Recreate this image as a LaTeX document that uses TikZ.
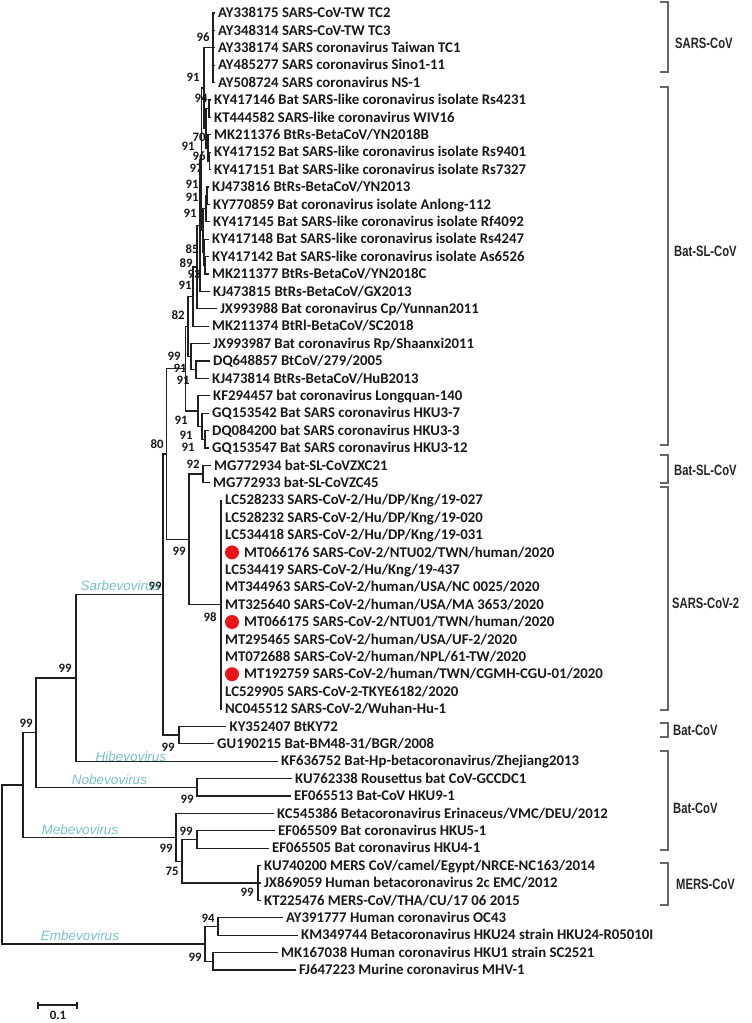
\documentclass[tikz,border=0pt]{standalone}
\usepackage{fontspec}
\setmainfont{Carlito}
\newfontfamily\arialfont{Liberation Sans}
\usepackage{graphicx}
\usetikzlibrary{calc}
\definecolor{genuscol}{RGB}{120,192,202}
\definecolor{dotred}{RGB}{232,20,24}
\newcommand{\cladetxt}[1]{\scalebox{0.75}[1]{#1}}
\begin{document}
\begin{tikzpicture}[x=1pt,y=-1pt,
 br/.style={line width=1.3pt, draw=black!88},
 leaf/.style={anchor=west, inner xsep=3.5pt, inner ysep=0pt, text height=9.5pt, text depth=0pt, font=\fontsize{14.8}{14.8}\selectfont\bfseries, text=black!90},
 dleaf/.style={leaf, inner xsep=22.5pt},
 bs/.style={inner sep=0pt, text height=8.1pt, text depth=0pt, font=\fontsize{12.8}{12.8}\selectfont\bfseries, text=black!90},
 genus/.style={inner sep=0pt, text height=9.5pt, text depth=0pt, font=\arialfont\itshape\fontsize{13.5}{13.5}\selectfont, text=genuscol},
 clade/.style={anchor=west, inner sep=0pt, text height=10.7pt, text depth=0pt, font=\arialfont\bfseries\fontsize{15}{15}\selectfont, text=black!85},
 brk/.style={line width=1.5pt, draw=black!60},
 rdot/.style={circle, fill=dotred, inner sep=0pt, minimum size=14pt}
]
\useasboundingbox (0,0) rectangle (752,1023);

% ---------- leaves ----------
\node[leaf] (l1) at (214.5,13) {AY338175 SARS-CoV-TW TC2};
\node[leaf] (l2) at (214.5,30.4) {AY348314 SARS-CoV-TW TC3};
\node[leaf] (l3) at (214.5,47.8) {AY338174 SARS coronavirus Taiwan TC1};
\node[leaf] (l4) at (214.5,65.2) {AY485277 SARS coronavirus Sino1-11};
\node[leaf] (l5) at (214.5,82.6) {AY508724 SARS coronavirus NS-1};
\node[leaf] (l6) at (210.5,100) {KY417146 Bat SARS-like coronavirus isolate Rs4231};
\node[leaf] (l7) at (210.5,117.4) {KT444582 SARS-like coronavirus WIV16};
\node[leaf] (l8) at (210.5,134.8) {MK211376 BtRs-BetaCoV/YN2018B};
\node[leaf] (l9) at (210.5,152.2) {KY417152 Bat SARS-like coronavirus isolate Rs9401};
\node[leaf] (l10) at (210.5,169.6) {KY417151 Bat SARS-like coronavirus isolate Rs7327};
\node[leaf] (l11) at (208.5,187) {KJ473816 BtRs-BetaCoV/YN2013};
\node[leaf] (l12) at (209.5,204.4) {KY770859 Bat coronavirus isolate Anlong-112};
\node[leaf] (l13) at (209.5,221.8) {KY417145 Bat SARS-like coronavirus isolate Rf4092};
\node[leaf] (l14) at (208.5,239.2) {KY417148 Bat SARS-like coronavirus isolate Rs4247};
\node[leaf] (l15) at (208.5,256.6) {KY417142 Bat SARS-like coronavirus isolate As6526};
\node[leaf] (l16) at (208.5,274) {MK211377 BtRs-BetaCoV/YN2018C};
\node[leaf] (l17) at (209.5,291.4) {KJ473815 BtRs-BetaCoV/GX2013};
\node[leaf] (l18) at (216.5,308.8) {JX993988 Bat coronavirus Cp/Yunnan2011};
\node[leaf] (l19) at (208.5,326.2) {MK211374 BtRl-BetaCoV/SC2018};
\node[leaf] (l20) at (209.5,343.6) {JX993987 Bat coronavirus Rp/Shaanxi2011};
\node[leaf] (l21) at (209.5,361) {DQ648857 BtCoV/279/2005};
\node[leaf] (l22) at (208.5,378.4) {KJ473814 BtRs-BetaCoV/HuB2013};
\node[leaf] (l23) at (209.5,395.8) {KF294457 bat coronavirus Longquan-140};
\node[leaf] (l24) at (208.5,413.2) {GQ153542 Bat SARS coronavirus HKU3-7};
\node[leaf] (l25) at (208.5,430.6) {DQ084200 bat SARS coronavirus HKU3-3};
\node[leaf] (l26) at (208.5,448) {GQ153547 Bat SARS coronavirus HKU3-12};
\node[leaf] (l27) at (210.5,465.4) {MG772934 bat-SL-CoVZXC21};
\node[leaf] (l28) at (209.5,482.8) {MG772933 bat-SL-CoVZC45};
\node[leaf] (l29) at (221.5,500.2) {LC528233 SARS-CoV-2/Hu/DP/Kng/19-027};
\node[leaf] (l30) at (221.5,517.6) {LC528232 SARS-CoV-2/Hu/DP/Kng/19-020};
\node[leaf] (l31) at (221.5,535) {LC534418 SARS-CoV-2/Hu/DP/Kng/19-031};
\node[dleaf] (l32) at (221.5,552.4) {MT066176 SARS-CoV-2/NTU02/TWN/human/2020};
\node[leaf] (l33) at (221.5,569.8) {LC534419 SARS-CoV-2/Hu/Kng/19-437};
\node[leaf] (l34) at (221.5,587.2) {MT344963 SARS-CoV-2/human/USA/NC 0025/2020};
\node[leaf] (l35) at (221.5,604.6) {MT325640 SARS-CoV-2/human/USA/MA 3653/2020};
\node[dleaf] (l36) at (221.5,622) {MT066175 SARS-CoV-2/NTU01/TWN/human/2020};
\node[leaf] (l37) at (221.5,639.4) {MT295465 SARS-CoV-2/human/USA/UF-2/2020};
\node[leaf] (l38) at (221.5,656.8) {MT072688 SARS-CoV-2/human/NPL/61-TW/2020};
\node[dleaf] (l39) at (221.5,674.2) {MT192759 SARS-CoV-2/human/TWN/CGMH-CGU-01/2020};
\node[leaf] (l40) at (221.5,691.6) {LC529905 SARS-CoV-2-TKYE6182/2020};
\node[leaf] (l41) at (221.5,709) {NC045512 SARS-CoV-2/Wuhan-Hu-1};
\node[leaf] (l42) at (226,726.4) {KY352407 BtKY72};
\node[leaf] (l43) at (213.5,743.8) {GU190215 Bat-BM48-31/BGR/2008};
\node[leaf] (l44) at (277.5,761.2) {KF636752 Bat-Hp-betacoronavirus/Zhejiang2013};
\node[leaf] (l45) at (291.5,778.6) {KU762338 Rousettus bat CoV-GCCDC1};
\node[leaf] (l46) at (290.5,796) {EF065513 Bat-CoV HKU9-1};
\node[leaf] (l47) at (273.5,813.4) {KC545386 Betacoronavirus Erinaceus/VMC/DEU/2012};
\node[leaf] (l48) at (274.5,830.8) {EF065509 Bat coronavirus HKU5-1};
\node[leaf] (l49) at (268.5,848.2) {EF065505 Bat coronavirus HKU4-1};
\node[leaf] (l50) at (260.5,865.6) {KU740200 MERS CoV/camel/Egypt/NRCE-NC163/2014};
\node[leaf] (l51) at (260.5,883) {JX869059 Human betacoronavirus 2c EMC/2012};
\node[leaf] (l52) at (260.5,900.4) {KT225476 MERS-CoV/THA/CU/17 06 2015};
\node[leaf] (l53) at (282.5,917.8) {AY391777 Human coronavirus OC43};
\node[leaf] (l54) at (297.5,935.2) {KM349744 Betacoronavirus HKU24 strain HKU24-R05010I};
\node[leaf] (l55) at (277.5,952.6) {MK167038 Human coronavirus HKU1 strain SC2521};
\node[leaf] (l56) at (295.5,970) {FJ647223 Murine coronavirus MHV-1};

% red dots
\node[rdot] (d1) at (232,552.4) {};
\node[rdot] (d2) at (232,622) {};
\node[rdot] (d3) at (232,674.2) {};

% ---------- internal nodes ----------
\coordinate (S) at (213,47.8);
\coordinate (a) at (209,108.7);
\coordinate (b) at (209.5,160.9);
\coordinate (c) at (208,147.85);
\coordinate (B1) at (206,128.28);
\coordinate (P1) at (204,88.04);
\coordinate (d) at (207,195.7);
\coordinate (e) at (206,208.75);
\coordinate (f) at (205,265.3);
\coordinate (g) at (204,252.25);
\coordinate (h) at (203,230.5);
\coordinate (P2) at (201.5,159.27);
\coordinate (P3) at (200,225.34);
\coordinate (P4) at (197,267.07);
\coordinate (G) at (193,296.64);
\coordinate (k) at (196,369.7);
\coordinate (J) at (191,356.65);
\coordinate (U) at (188,326.65);
\coordinate (m) at (205,439.3);
\coordinate (n) at (202,426.25);
\coordinate (V) at (198,411.03);
\coordinate (X) at (185.5,368.84);
\coordinate (ZC) at (203,474.1);
\coordinate (C2) at (221,604.6);
\coordinate (Y) at (189,539.35);
\coordinate (Z) at (166.5,454.1);
\coordinate (BC) at (179,735.1);
\coordinate (Sb) at (163,594.6);
\coordinate (H) at (76,677.9);
\coordinate (Nb) at (197,787.3);
\coordinate (Q) at (36,732.6);
\coordinate (w) at (197,839.5);
\coordinate (Ms) at (258,883);
\coordinate (Mx) at (182,861.25);
\coordinate (Mb) at (176,837.3);
\coordinate (R) at (23,784.95);
\coordinate (e1) at (218,926.5);
\coordinate (e2) at (213,961.3);
\coordinate (Emb) at (205,943.9);
\coordinate (Root) at (2,864.4);

% ---------- branches ----------
\draw[br]
 (S) |- (l1.west) (S) |- (l2.west) (S) |- (l3.west) (S) |- (l4.west) (S) |- (l5.west)
 (a) |- (l6.west) (a) |- (l7.west)
 (b) |- (l9.west) (b) |- (l10.west)
 (c) |- (l8.west) (c) |- (b)
 (B1) |- (a) (B1) |- (c)
 (P1) |- (S) (P1) |- (B1)
 (d) |- (l11.west) (d) |- (l12.west)
 (e) |- (d) (e) |- (l13.west)
 (f) |- (l15.west) (f) |- (l16.west)
 (g) |- (l14.west) (g) |- (f)
 (h) |- (e) (h) |- (g)
 (P2) |- (P1) (P2) |- (h)
 (P3) |- (P2) (P3) |- (l17.west)
 (P4) |- (P3) (P4) |- (l18.west)
 (G) |- (P4) (G) |- (l19.west)
 (k) |- (l21.west) (k) |- (l22.west)
 (J) |- (l20.west) (J) |- (k)
 (U) |- (G) (U) |- (J)
 (m) |- (l25.west) (m) |- (l26.west)
 (n) |- (l24.west) (n) |- (m)
 (V) |- (l23.west) (V) |- (n)
 (X) |- (U) (X) |- (V)
 (ZC) |- (l27.west) (ZC) |- (l28.west)
 (C2) |- (l29.west) (C2) |- (l30.west) (C2) |- (l31.west) (C2) |- (l32.west)
 (C2) |- (l33.west) (C2) |- (l34.west) (C2) |- (l35.west) (C2) |- (l36.west)
 (C2) |- (l37.west) (C2) |- (l38.west) (C2) |- (l39.west) (C2) |- (l40.west)
 (C2) |- (l41.west)
 (Y) |- (ZC) (Y) |- (C2)
 (Z) |- (X) (Z) |- (Y)
 (BC) |- (l42.west) (BC) |- (l43.west)
 (Sb) |- (Z) (Sb) |- (BC)
 (H) |- (Sb) (H) |- (l44.west)
 (Nb) |- (l45.west) (Nb) |- (l46.west)
 (Q) |- (H) (Q) |- (Nb)
 (w) |- (l48.west) (w) |- (l49.west)
 (Ms) |- (l50.west) (Ms) |- (l51.west) (Ms) |- (l52.west)
 (Mx) |- (w) (Mx) |- (Ms)
 (Mb) |- (l47.west) (Mb) |- (Mx)
 (R) |- (Q) (R) |- (Mb)
 (e1) |- (l53.west) (e1) |- (l54.west)
 (e2) |- (l55.west) (e2) |- (l56.west)
 (Emb) |- (e1) (Emb) |- (e2)
 (Root) |- (R) (Root) |- (Emb);

% ---------- bootstrap values ----------
\node[bs] (v1) at (203,37) {96};
\node[bs] (v2) at (193,77) {91};
\node[bs] (v3) at (201,98) {94};
\node[bs] (v4) at (199,137) {70};
\node[bs] (v5) at (188,146) {91};
\node[bs] (v6) at (199,156) {96};
\node[bs] (v7) at (196,168) {97};
\node[bs] (v8) at (192,184) {91};
\node[bs] (v9) at (192,197) {91};
\node[bs] (v10) at (190,213) {91};
\node[bs] (v11) at (192,249) {85};
\node[bs] (v12) at (186,263) {89};
\node[bs] (v13) at (194,274) {93};
\node[bs] (v14) at (185,285) {91};
\node[bs] (v15) at (178,315) {82};
\node[bs] (v16) at (174,356) {99};
\node[bs] (v17) at (180,368) {91};
\node[bs] (v18) at (183,380) {91};
\node[bs] (v19) at (181,420) {91};
\node[bs] (v20) at (186,435) {91};
\node[bs] (v21) at (188,447) {91};
\node[bs] (v22) at (157,444) {80};
\node[bs] (v23) at (193,464) {92};
\node[bs] (v24) at (179,551) {99};
\node[bs] (v25) at (210,617) {98};
\node[bs] (v26) at (155,586) {99};
\node[bs] (v27) at (65,668) {99};
\node[bs] (v28) at (26,723) {99};
\node[bs] (v29) at (168,747) {99};
\node[bs] (v30) at (187,799) {99};
\node[bs] (v31) at (186,831) {99};
\node[bs] (v32) at (166,848) {99};
\node[bs] (v33) at (172,871) {75};
\node[bs] (v34) at (247,892) {99};
\node[bs] (v35) at (208,918) {94};
\node[bs] (v36) at (195,957) {99};

% ---------- genus labels ----------
\node[genus] (gSarbe) at (120,586) {Sarbevovirus};
\node[genus] (gHibe) at (131,757) {Hibevovirus};
\node[genus] (gNobe) at (109.5,780) {Nobevovirus};
\node[genus] (gMebe) at (80,830) {Mebevovirus};
\node[genus] (gEmbe) at (80,936) {Embevovirus};

% ---------- clade brackets ----------
\draw[brk] (660,2) -- (668,2) -- (668,72) -- (660,72);
\node[clade] (c1) at (675,43) {\cladetxt{SARS-CoV}};
\draw[brk] (660,87) -- (668,87) -- (668,445) -- (660,445);
\node[clade] (c2) at (674,251) {\cladetxt{Bat-SL-CoV}};
\draw[brk] (660,455) -- (668,455) -- (668,483) -- (660,483);
\node[clade] (c3) at (674,470) {\cladetxt{Bat-SL-CoV}};
\draw[brk] (660,487) -- (668,487) -- (668,710) -- (660,710);
\node[clade] (c4) at (672,603) {\cladetxt{SARS-CoV-2}};
\draw[brk] (660,723) -- (668,723) -- (668,737) -- (660,737);
\node[clade] (c5) at (673,730) {\cladetxt{Bat-CoV}};
\draw[brk] (660,751) -- (668,751) -- (668,850) -- (660,850);
\node[clade] (c6) at (673,808) {\cladetxt{Bat-CoV}};
\draw[brk] (660,863) -- (668,863) -- (668,905) -- (660,905);
\node[clade] (c7) at (676,884) {\cladetxt{MERS-CoV}};

% ---------- scale bar ----------
\coordinate (sbA) at (38,1005);
\coordinate (sbB) at (77,1005);
\draw[br, line width=1.2pt] (sbA) -- (sbB);
\draw[br, line width=1.2pt] ($(sbA)+(0,-3.5)$) -- ($(sbA)+(0,3.5)$);
\draw[br, line width=1.2pt] ($(sbB)+(0,-3.5)$) -- ($(sbB)+(0,3.5)$);
\node[bs] (sbl) at (58,1015.5) {0.1};
\end{tikzpicture}
\end{document}
